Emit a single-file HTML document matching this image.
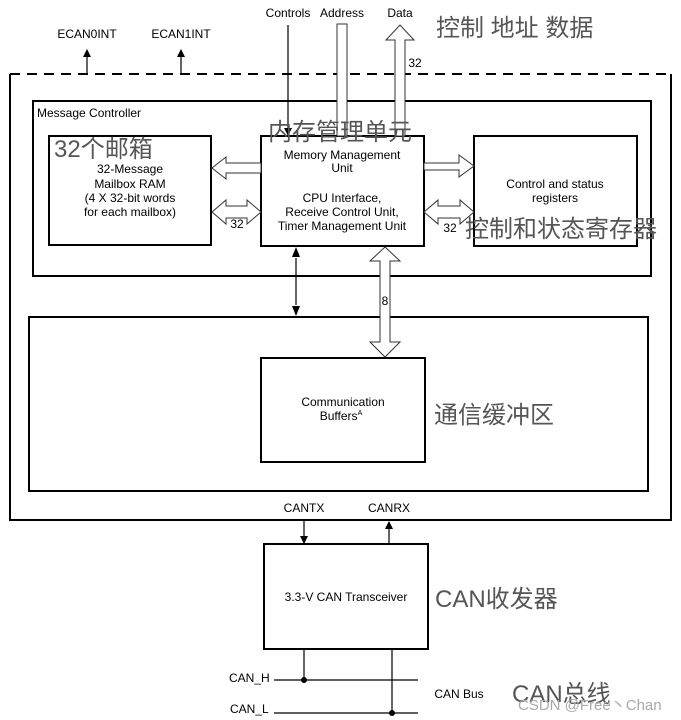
<!DOCTYPE html>
<html><head><meta charset="utf-8"><style>
html,body{margin:0;padding:0;background:#fff;}
svg{display:block;font-family:"Liberation Sans",Arial,sans-serif;}
.cn{font-family:"Liberation Sans","Noto Sans CJK SC",sans-serif;fill:#555;font-size:24px;}
</style></head><body>
<svg width="681" height="720" viewBox="0 0 681 720" xmlns="http://www.w3.org/2000/svg">
<defs>
<marker id="ah" markerWidth="8" markerHeight="8" refX="7" refY="4" orient="auto" markerUnits="userSpaceOnUse"><path d="M0,0 L8,4 L0,8 z" fill="#000"/></marker>
</defs>
<g fill="none" stroke="#000" stroke-width="2">
<line x1="10" y1="74" x2="672" y2="74" stroke-dasharray="10,7"/>
<polyline points="10,74 10,520 671,520 671,74"/>
<rect x="33" y="101" width="618" height="175"/>
<rect x="49" y="136" width="162" height="109"/>
<rect x="261" y="136" width="163" height="110"/>
<rect x="474" y="136" width="163" height="110"/>
<rect x="29" y="317" width="619" height="174"/>
<rect x="261" y="358" width="164" height="104"/>
<rect x="264" y="544" width="164" height="105"/>
</g>
<g stroke="#000" stroke-width="1.2" fill="none">
<line x1="87" y1="74" x2="87" y2="50" marker-end="url(#ah)"/>
<line x1="181" y1="74" x2="181" y2="50" marker-end="url(#ah)"/>
<line x1="288" y1="25" x2="288" y2="135" marker-end="url(#ah)"/>
<line x1="296" y1="258" x2="296" y2="305"/>
<line x1="304" y1="520" x2="304" y2="543" marker-end="url(#ah)"/>
<line x1="389" y1="543" x2="389" y2="522" marker-end="url(#ah)"/>
<line x1="304" y1="649" x2="304" y2="680"/>
<line x1="392" y1="649" x2="392" y2="713"/>
<line x1="274" y1="680" x2="418" y2="680"/>
<line x1="274" y1="713" x2="418" y2="713"/>
</g>
<path d="M296,247 l-4,10 h8z M296,316 l-4,-10 h8z" fill="#000"/>
<circle cx="304" cy="680" r="3"/><circle cx="392" cy="713" r="3"/>
<g fill="#fff" stroke="#333" stroke-width="1">
<rect x="337" y="24" width="10" height="112"/>
<polygon points="395,136 395,40 386,40 400,25 414,40 405,40 405,136"/>
<polygon points="261,163 226,163 226,157 212,168 226,179 226,173 261,173"/>
<polygon points="212,212 226,200 226,206 247,206 247,200 261,212 247,224 247,218 226,218 226,224"/>
<polygon points="424,163 459,163 459,155 474,166 459,177 459,170 424,170"/>
<polygon points="424,212 438,200 438,206 460,206 460,200 474,212 460,224 460,218 438,218 438,224"/>
<polygon points="385,247 400,261 390,261 390,342 400,342 385,357 370,342 380,342 380,261 370,261"/>
</g>
<g font-size="12" fill="#000" text-anchor="middle">
<text x="87" y="38">ECAN0INT</text>
<text x="181" y="38">ECAN1INT</text>
<text x="288" y="17">Controls</text>
<text x="342" y="17">Address</text>
<text x="400" y="17">Data</text>
<text x="415" y="67">32</text>
<text x="130" y="173">32-Message</text>
<text x="130" y="188">Mailbox RAM</text>
<text x="130" y="202">(4 X 32-bit words</text>
<text x="130" y="216">for each mailbox)</text>
<text x="237" y="228">32</text>
<text x="342" y="159">Memory Management</text>
<text x="342" y="172">Unit</text>
<text x="342" y="202">CPU Interface,</text>
<text x="342" y="216">Receive Control Unit,</text>
<text x="342" y="230">Timer Management Unit</text>
<text x="450" y="232">32</text>
<text x="555" y="188">Control and status</text>
<text x="555" y="202">registers</text>
<text x="385" y="305">8</text>
<text x="343" y="406">Communication</text>
<text x="341" y="420">Buffers<tspan font-size="7" dy="-5">A</tspan></text>
<text x="304" y="512">CANTX</text>
<text x="389" y="512">CANRX</text>
<text x="346" y="601">3.3-V CAN Transceiver</text>
<text x="459" y="698">CAN Bus</text>
</g>
<g font-size="12" fill="#000">
<text x="37" y="117">Message Controller</text>
<text x="229" y="682">CAN_H</text>
<text x="230" y="713">CAN_L</text>
</g>
<text class="cn" x="436" y="36">控制 地址 数据</text>
<text class="cn" x="54" y="157">32个邮箱</text>
<text class="cn" x="268" y="140">内存管理单元</text>
<text class="cn" x="465" y="237">控制和状态寄存器</text>
<text class="cn" x="434" y="423">通信缓冲区</text>
<text class="cn" x="435" y="607">CAN收发器</text>
<text class="cn" x="512" y="702">CAN总线</text>
<text x="518" y="710" font-size="15" fill="#aaa">CSDN @Free丶Chan</text>
</svg>
</body></html>
